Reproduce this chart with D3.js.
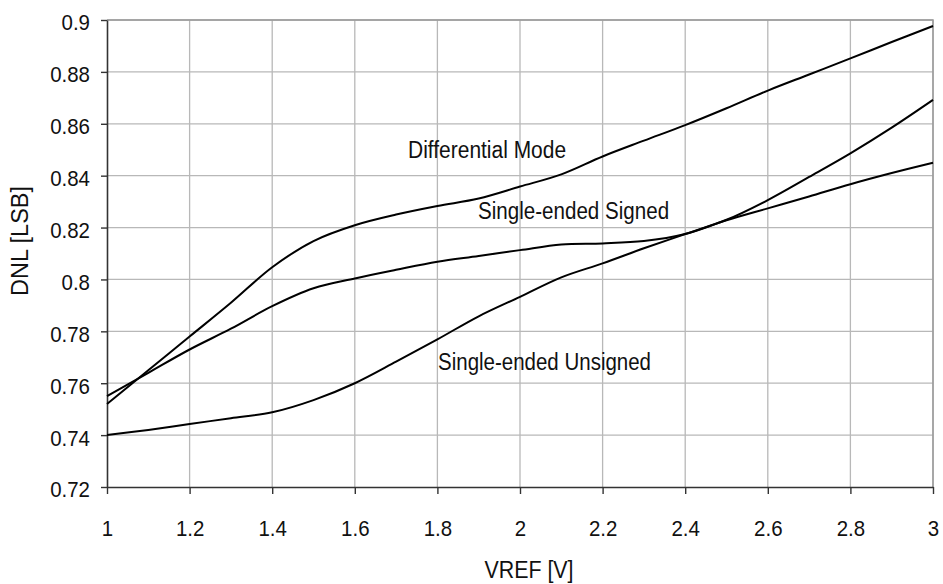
<!DOCTYPE html>
<html>
<head>
<meta charset="utf-8">
<script src="https://cdn.jsdelivr.net/npm/d3@7"></script>
<style>
  body { margin: 0; background: #fff; }
  svg { display: block; font-family: "Liberation Sans", Arial, sans-serif; }
</style>
</head>
<body>
<script>
// VREF sample points [V]
const vref = [1.0, 1.1, 1.2, 1.3, 1.4, 1.5, 1.6, 1.7, 1.8, 1.9, 2.0,
              2.1, 2.2, 2.3, 2.4, 2.5, 2.6, 2.7, 2.8, 2.9, 3.0];

// DNL [LSB]
const differential = [0.752, 0.765, 0.778, 0.791, 0.8047, 0.8148, 0.8209, 0.825, 0.8283, 0.8312, 0.8358,
                      0.8405, 0.8474, 0.8535, 0.8595, 0.866, 0.8728, 0.879, 0.8852, 0.8915, 0.8977];
const signedSE = [0.755, 0.764, 0.773, 0.781, 0.7897, 0.7966, 0.8004, 0.8037, 0.8068, 0.809, 0.8113,
                  0.8135, 0.8139, 0.8148, 0.8175, 0.8228, 0.8274, 0.832, 0.8367, 0.841, 0.845];
const unsignedSE = [0.740, 0.742, 0.7443, 0.7465, 0.7488, 0.7535, 0.760, 0.7683, 0.7769, 0.7858, 0.7933,
                    0.8008, 0.8062, 0.812, 0.8175, 0.823, 0.8306, 0.8395, 0.8486, 0.8585, 0.8692];

const xTicks = [1, 1.2, 1.4, 1.6, 1.8, 2, 2.2, 2.4, 2.6, 2.8, 3];
const yTicks = [0.72, 0.74, 0.76, 0.78, 0.8, 0.82, 0.84, 0.86, 0.88, 0.9];

const seriesLabels = [
  { name: "Differential Mode", x: 1.729, y: 0.8468, len: 158 },
  { name: "Single-ended Signed", x: 1.8985, y: 0.8233, len: 191 },
  { name: "Single-ended Unsigned", x: 1.8015, y: 0.7651, len: 213 }
];

const width = 943, height = 584;
const margin = { top: 20, right: 10, bottom: 97, left: 107 };

const svg = d3.select("body").append("svg")
    .attr("width", width)
    .attr("height", height);

const x = d3.scaleLinear()
    .domain([1, 3])
    .range([margin.left, width - margin.right]);
const y = d3.scaleLinear()
    .domain([0.72, 0.9])
    .range([height - margin.bottom, margin.top]);

// grid
svg.append("g")
  .selectAll("line")
  .data(xTicks.slice(1))
  .join("line")
    .attr("x1", d => x(d)).attr("x2", d => x(d))
    .attr("y1", y(0.9)).attr("y2", y(0.72))
    .attr("stroke", "#b8b8b8")
    .attr("stroke-width", 1.3);
svg.append("g")
  .selectAll("line")
  .data(yTicks.slice(1))
  .join("line")
    .attr("x1", x(1)).attr("x2", x(3))
    .attr("y1", d => y(d)).attr("y2", d => y(d))
    .attr("stroke", "#b8b8b8")
    .attr("stroke-width", 1.3);

// top / right frame
svg.append("path")
    .attr("d", `M${x(1)},${y(0.9)}H${x(3)}V${y(0.72)}`)
    .attr("fill", "none")
    .attr("stroke", "#999")
    .attr("stroke-width", 1.5);

// axes
const xAxis = svg.append("g")
    .attr("transform", `translate(0,${y(0.72)})`)
    .call(d3.axisBottom(x).tickValues(xTicks).tickSize(7).tickSizeOuter(0).tickPadding(26)
      .tickFormat(d3.format("")));
const yAxis = svg.append("g")
    .attr("transform", `translate(${x(1)},0)`)
    .call(d3.axisLeft(y).tickValues(yTicks).tickSize(6).tickSizeOuter(0).tickPadding(11)
      .tickFormat(d3.format("")));

[xAxis, yAxis].forEach(g => {
  g.select(".domain").attr("stroke", "#333").attr("stroke-width", 1.6);
  g.selectAll(".tick line").attr("stroke", "#333").attr("stroke-width", 1.4);
  g.selectAll(".tick text")
      .attr("fill", "#111")
      .style("font-size", "22px")
      .style("font-family", "'Liberation Sans', Arial, sans-serif");
});
yAxis.selectAll(".tick text").attr("dy", "0.45em");
yAxis.selectAll(".tick text").attr("textLength", function() {
  return this.getComputedTextLength() * 0.93;
}).attr("lengthAdjust", "spacingAndGlyphs");
xAxis.selectAll(".tick text").attr("textLength", function() {
  return this.getComputedTextLength() * 0.93;
}).attr("lengthAdjust", "spacingAndGlyphs");

// lines
const line = d3.line()
    .x((d, i) => x(vref[i]))
    .y(d => y(d))
    .curve(d3.curveCatmullRom.alpha(0.5));

[differential, signedSE, unsignedSE].forEach(s => {
  svg.append("path")
      .datum(s)
      .attr("fill", "none")
      .attr("stroke", "#000")
      .attr("stroke-width", 2)
      .attr("d", line);
});

// series labels
svg.append("g")
  .selectAll("text")
  .data(seriesLabels)
  .join("text")
    .attr("x", d => x(d.x))
    .attr("y", d => y(d.y))
    .attr("textLength", d => d.len)
    .attr("lengthAdjust", "spacingAndGlyphs")
    .style("font-size", "23px")
    .attr("fill", "#111")
    .text(d => d.name);

// axis titles
svg.append("text")
    .attr("x", 529)
    .attr("y", 578)
    .attr("text-anchor", "middle")
    .attr("textLength", 89)
    .attr("lengthAdjust", "spacingAndGlyphs")
    .style("font-size", "23px")
    .attr("fill", "#111")
    .text("VREF [V]");

svg.append("text")
    .attr("transform", "translate(28,241) rotate(-90)")
    .attr("text-anchor", "middle")
    .attr("textLength", 110)
    .attr("lengthAdjust", "spacingAndGlyphs")
    .style("font-size", "23px")
    .attr("fill", "#111")
    .text("DNL [LSB]");
</script>
</body>
</html>
